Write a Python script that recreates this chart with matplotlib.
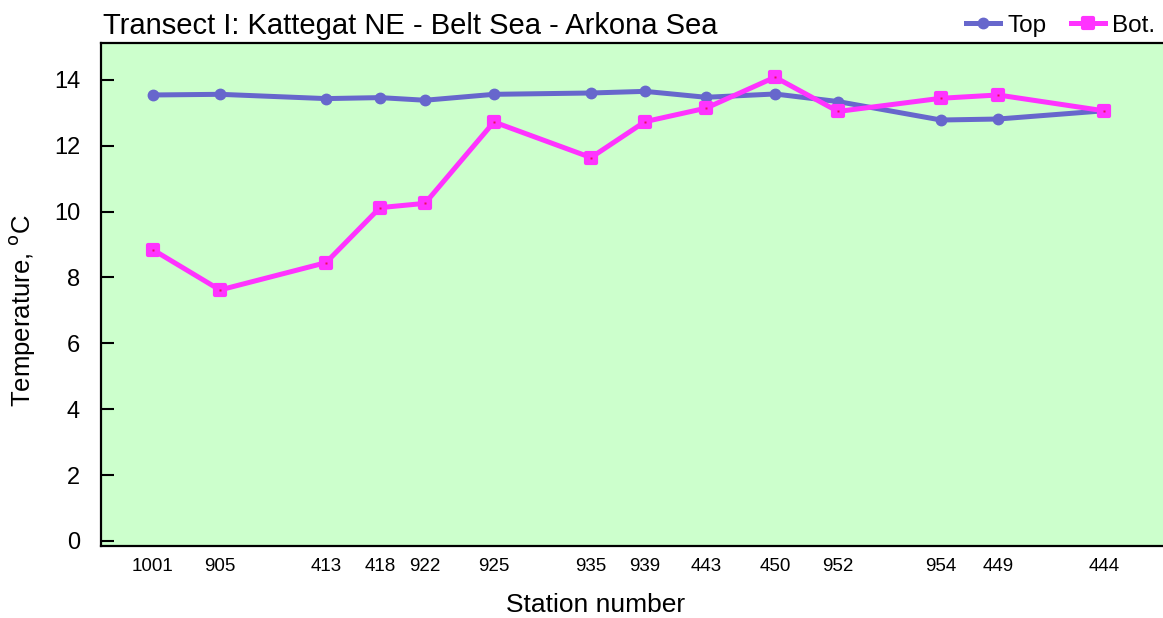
import matplotlib
matplotlib.use("Agg")
import matplotlib.pyplot as plt
from matplotlib.lines import Line2D
from matplotlib.markers import MarkerStyle

plt.rcParams['font.family'] = ['Liberation Sans', 'DejaVu Sans']

# Station order along the transect and along-track position of each station
stations = ["1001", "905", "413", "418", "922", "925", "935", "939",
            "443", "450", "952", "954", "449", "444"]
distance = [52, 119, 225, 279, 324, 393, 490, 544, 605, 674, 737, 840, 897, 1003]

# Temperature (deg C) at the surface and near the bottom
temp_top = [13.54, 13.56, 13.43, 13.46, 13.38, 13.56, 13.60, 13.65,
            13.47, 13.57, 13.34, 12.78, 12.81, 13.06]
temp_bot = [8.84, 7.62, 8.45, 10.12, 10.25, 12.72, 11.64, 12.73,
            13.14, 14.08, 13.04, 13.44, 13.54, 13.06]

top_color = "#6767cc"
bot_color = "#ff33ff"
dot_color = "#e8105a"

bot_marker = MarkerStyle("s", joinstyle="round")

fig = plt.figure(figsize=(11.63, 6.18), dpi=100)
ax = fig.add_axes([0.0868, 0.1173, 0.9132, 0.8127])
ax.set_facecolor("#ccffcc")

ax.plot(distance, temp_top, color=top_color, lw=3.6, marker="o", ms=7.5,
        mec=top_color, mfc=top_color, zorder=3)
ax.plot(distance, temp_bot, color=bot_color, lw=3.6, marker=bot_marker, ms=6.5,
        mec=bot_color, mfc=bot_color, mew=3, zorder=4)
ax.plot(distance, temp_bot, ls="none", marker="s", ms=1.8, mfc=dot_color,
        mec="none", zorder=5)

ax.set_xlim(0, 1062)
ax.set_ylim(-0.137, 15.11)
ax.set_yticks(range(0, 15, 2))
ax.set_xticks(distance)
ax.set_xticklabels(stations)

ax.tick_params(axis="y", direction="in", length=9.5, width=1.5,
               labelsize=17, pad=15)
ax.tick_params(axis="x", length=0, labelsize=13.5, pad=9)

for side in ("left", "bottom", "top"):
    ax.spines[side].set_linewidth(1.6)
ax.spines["right"].set_visible(False)

ax.set_xlabel("Station number", fontsize=19)
ax.xaxis.set_label_coords(0.466, -0.095)
ax.set_ylabel("Temperature, $^{\\mathrm{o}}$C", fontsize=18.5)
ax.yaxis.set_label_coords(-0.060, 0.469)

fig.text(0.0886, 0.945, "Transect I: Kattegat NE - Belt Sea - Arkona Sea",
         fontsize=21, ha="left", va="baseline")

handles = [
    Line2D([], [], color=top_color, lw=3.6, marker="o", ms=7.5),
    Line2D([], [], color=bot_color, lw=3.6, marker=bot_marker, ms=6.5, mew=3),
]
fig.legend(handles, ["Top", "Bot."], loc="upper right",
           bbox_to_anchor=(1.006, 1.0), ncol=2, frameon=False, fontsize=17.5,
           handlelength=1.4, handletextpad=0.3, columnspacing=1.0,
           borderaxespad=0.2)

fig.savefig("out.png", dpi=100)
